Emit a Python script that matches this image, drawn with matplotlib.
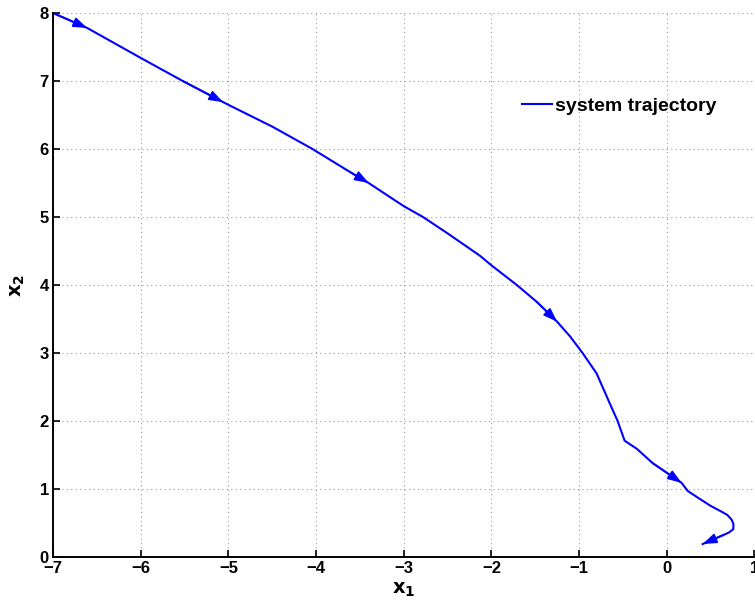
import numpy as np
import matplotlib.pyplot as plt
from matplotlib.patches import FancyArrowPatch

plt.rcParams['font.family'] = ['Liberation Sans', 'DejaVu Sans']
plt.rcParams['font.weight'] = 'bold'

# trajectory
x1 = [-7.0, -6.61, -6.0, -5.52, -5.06, -5.0, -4.5, -4.04, -3.61, -3.4, -3.0, -2.78,
      -2.5, -2.13, -2.0, -1.71, -1.48, -1.25, -1.1, -0.96, -0.8, -0.65, -0.56, -0.48,
      -0.34, -0.16, 0.17, 0.24, 0.49, 0.62, 0.69, 0.74, 0.76, 0.76, 0.71, 0.64, 0.41]
x2 = [8.0, 7.78, 7.34, 7.0, 6.69, 6.65, 6.33, 6.0, 5.66, 5.5, 5.16, 5.0,
      4.76, 4.43, 4.29, 4.0, 3.75, 3.46, 3.24, 3.0, 2.7, 2.26, 2.0, 1.71,
      1.59, 1.38, 1.09, 0.97, 0.76, 0.67, 0.62, 0.55, 0.49, 0.41, 0.36, 0.32, 0.19]
arrow_idx = [1, 4, 9, 17, 26, 36]

xticks = [-7, -6, -5, -4, -3, -2, -1, 0, 1]
yticks = [0, 1, 2, 3, 4, 5, 6, 7, 8]

fig = plt.figure(figsize=(7.55, 6.11), dpi=100)
ax = fig.add_axes([0.0702, 0.0884, 0.929, 0.8903])

ax.plot(x1, x2, color='#0000ff', lw=1.5, label='system trajectory')
for i in arrow_idx:
    arr = FancyArrowPatch((x1[i - 1], x2[i - 1]), (x1[i], x2[i]),
                          arrowstyle='-|>,head_length=0.7,head_width=0.25',
                          mutation_scale=12, color='#0000ff', lw=1.2,
                          shrinkA=0, shrinkB=0)
    ax.add_patch(arr)

ax.set_xlim(-7, 1)
ax.set_ylim(0, 8)
ax.set_xticks(xticks)
ax.set_yticks(yticks)
ax.set_xticklabels(['\u2212' + str(-t) if t < 0 else str(t) for t in xticks])
ax.tick_params(direction='in', length=5, width=1.2, labelsize=12, pad=3)
ax.grid(True, linestyle=(0, (1, 3)), color='#999999', lw=0.8)
for s in ['top', 'right']:
    ax.spines[s].set_visible(False)
for s in ['left', 'bottom']:
    ax.spines[s].set_linewidth(1.4)

ax.set_xlabel('$\\mathbf{x_1}$', fontsize=14, labelpad=3)
ax.set_ylabel('$\\mathbf{x_2}$', fontsize=14, labelpad=9)

ax.legend(loc='center left', bbox_to_anchor=(0.669, 0.829), frameon=False,
          borderpad=0, borderaxespad=0, handlelength=1.55, handletextpad=0.15,
          prop={'weight': 'bold', 'size': 14})

fig.savefig('out.png', dpi=100)
